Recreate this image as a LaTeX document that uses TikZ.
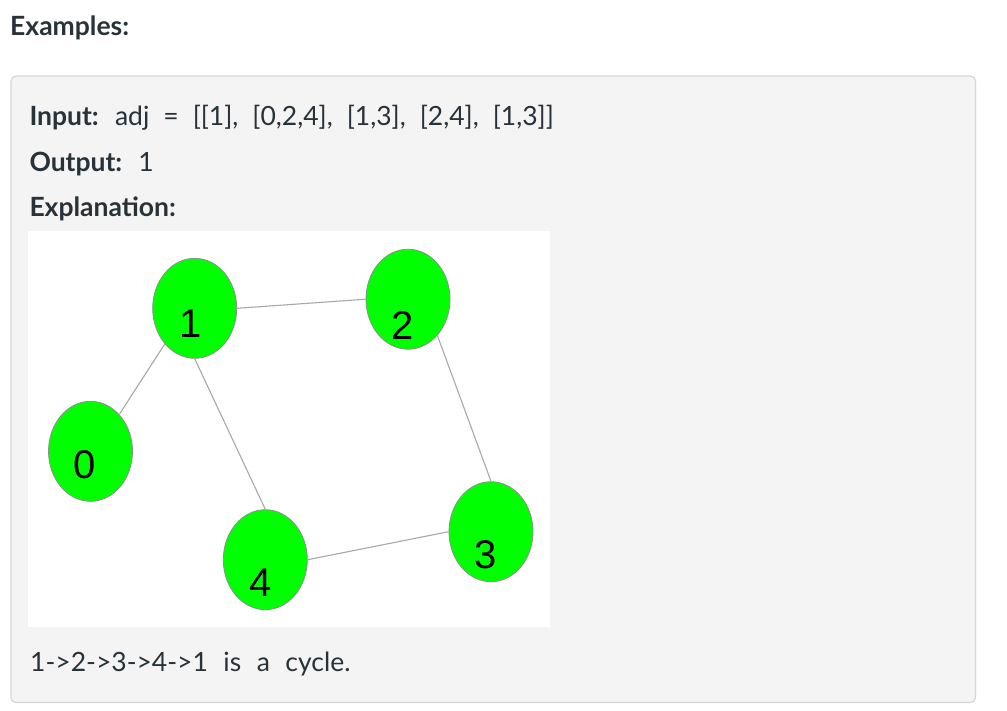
\documentclass[tikz,border=0pt]{standalone}
\usepackage{fontspec}
\setmainfont{Lato}
\newfontfamily\arialfont{Liberation Sans}
\usetikzlibrary{shapes.geometric}
\definecolor{boxfill}{HTML}{F4F4F4}
\definecolor{boxline}{HTML}{D6D6D6}
\definecolor{txtcol}{HTML}{273239}
\definecolor{nodegreen}{HTML}{00FF00}
\definecolor{edgecol}{HTML}{A8A8A8}
\definecolor{nodeborder}{HTML}{8E8E8E}
\begin{document}
\begin{tikzpicture}[x=1pt,y=-1pt,
  txt/.style={anchor=base west,inner sep=0pt,text=txtcol,font=\fontsize{26.5}{30}\selectfont},
  vtx/.style={ellipse,draw=nodeborder,fill=nodegreen,line width=0.8pt,minimum width=84pt,minimum height=100pt,inner sep=0pt},
  vlbl/.style={anchor=base,inner sep=0pt,text=black,font=\arialfont\fontsize{40}{40}\selectfont},
  edge/.style={draw=edgecol,line width=1.1pt}]
\useasboundingbox (0,0) rectangle (1007,710);
\fill[white] (0,0) rectangle (1007,710);
\draw[boxline,fill=boxfill,rounded corners=5pt,line width=1.2pt] (11,76) rectangle (975.5,702.5);
\fill[white] (28,231) rectangle (550,627);
% texts
\node[txt] (ex) at (10,35) {\textbf{Examples:}};
\node[txt] (inp) at (29.3,125) {\spaceskip=14pt\relax\textbf{Input:} adj = [[1], [0,2,4], [1,3], [2,4], [1,3]]};
\node[txt] (out) at (29.3,171.7) {\spaceskip=14pt\relax\textbf{Output:} 1};
\node[txt] (expl) at (29.3,216.7) {\textbf{Explanation:}};
\node[txt] (cyc) at (30,671.7) {\spaceskip=15.5pt\relax 1->2->3->4->1 is a cycle.};
% graph
\node[vtx] (n0) at (90.5,451.3) {};
\node[vtx] (n1) at (194.7,308.3) {};
\node[vtx] (n2) at (408,299.2) {};
\node[vtx] (n3) at (491,531.7) {};
\node[vtx] (n4) at (265.3,559.7) {};
\node[vlbl] (l0) at (85,478.3) {0};
\node[vlbl] (l1) at (190.5,337.3) {1};
\node[vlbl] (l2) at (402.3,339.3) {2};
\node[vlbl] (l3) at (486,568.3) {3};
\node[vlbl] (l4) at (260.7,596.7) {4};
\draw[edge] (n1.east) -- (n2.west);
\draw[edge] (n1.230) -- (n0.52);
\draw[edge] (n1.south) -- (n4.north);
\draw[edge] (n2.309) -- (n3.north);
\draw[edge] (n4.east) -- (n3.west);
\end{tikzpicture}
\end{document}
